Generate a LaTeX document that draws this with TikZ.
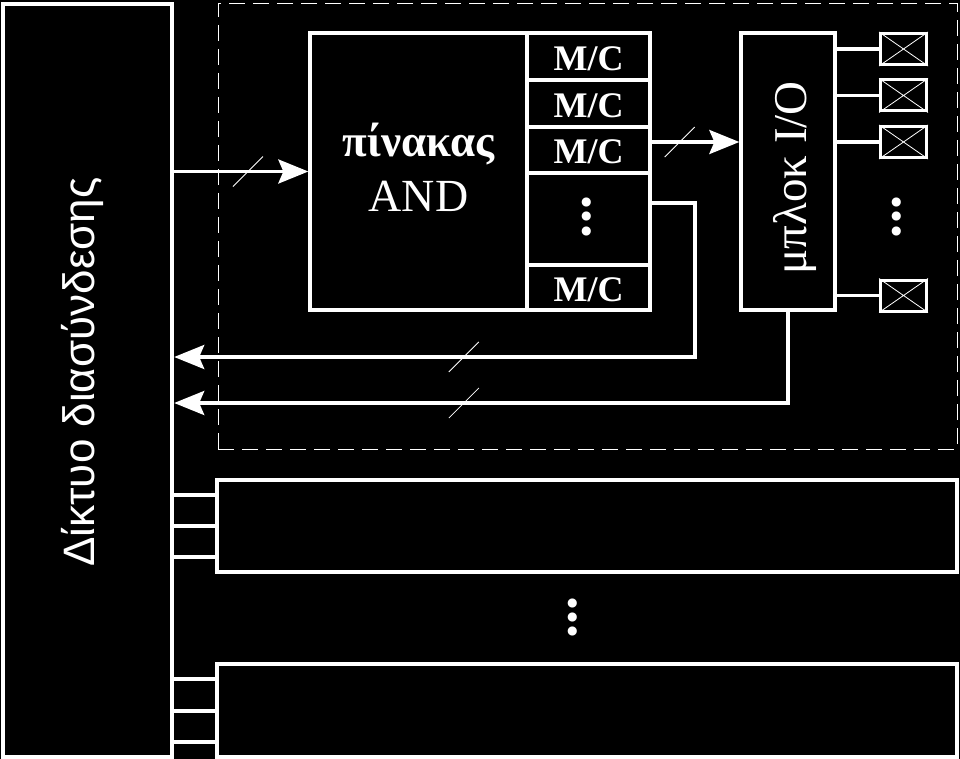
\documentclass[tikz,border=0pt]{standalone}
\usepackage{fontspec}
\setmainfont{Liberation Serif}
\newfontfamily\netfont{Liberation Sans}
\usetikzlibrary{arrows.meta,calc}
\begin{document}
\begin{tikzpicture}[x=1pt,y=-1pt,
  every node/.style={text=white},
  box/.style={draw=white,line width=3.3pt,inner sep=0pt},
  bigbox/.style={draw=white,line width=4.4pt,inner sep=0pt},
  wire/.style={draw=white,line width=3.3pt},
  stub/.style={draw=white,line width=4pt},
  arr/.style={draw=white,line width=3.5pt,-{Stealth[length=30pt,width=24pt,inset=5pt]}},
  slashmark/.style={draw=white,line width=0.8pt},
  crossline/.style={draw=white,line width=0.8pt},
  pin/.style={draw=white,line width=3pt,inner sep=0pt,minimum width=46pt,minimum height=31pt},
  mccell/.style={box,minimum width=123pt,font=\bfseries\fontsize{36}{36}\selectfont,text height=28pt,text depth=0pt},
  dotsv/.style={rotate=90,inner sep=0pt,font=\bfseries\fontsize{56}{56}\selectfont},
]
\fill[black] (0,0) rectangle (960,759);
\useasboundingbox (0,0) rectangle (960,759);

% interconnect network
\node[bigbox,minimum width=169pt,minimum height=753pt] (net) at (87.5,380.5) {};
\node[rotate=90,anchor=base,font=\netfont\fontsize{44}{44}\selectfont] (netlbl) at (94,372) {Δίκτυο διασύνδεσης};

% dashed frame
\node[draw=white,line width=1pt,dash pattern=on 16pt off 8pt,inner sep=0pt,minimum width=739pt,minimum height=445pt] (frame) at (587.5,226.5) {};

% AND array
\node[box,minimum width=217pt,minimum height=277pt] (and) at (418.5,171.5) {};
\node[anchor=base,font=\bfseries\fontsize{45}{45}\selectfont] (andl1) at (418.5,157) {πίνακας};
\node[anchor=base,font=\fontsize{46}{46}\selectfont] (andl2) at (418.5,212) {AND};

% macrocells
\node[mccell,minimum height=47pt] (mc1) at (588.5,56.5) {M/C};
\node[mccell,minimum height=47pt] (mc2) at (588.5,103.5) {M/C};
\node[mccell,minimum height=46pt] (mc3) at (588.5,150) {M/C};
\node[box,minimum width=123pt,minimum height=92pt] (mcd) at (588.5,219) {};
\node[mccell,minimum height=45pt] (mc4) at (588.5,287.5) {M/C};
\node[dotsv] (mcdots) at (587,217) {...};

% I/O block
\node[box,minimum width=94pt,minimum height=277pt] (io) at (788,171.5) {};
\node[rotate=90,anchor=base,font=\fontsize{47}{47}\selectfont] (iolbl) at (806,178) {μπλοκ I/O};

% pins
\node[pin] (p1) at (903.5,49) {};
\node[pin] (p2) at (903.5,95.5) {};
\node[pin] (p3) at (903.5,142) {};
\node[pin] (p4) at (903.5,295.5) {};
\node[dotsv] (pdots) at (897,217) {...};
\foreach \p in {p1,p2,p3,p4} {
  \draw[wire] (io.east |- \p.west) -- (\p.west);
  \draw[crossline] (\p.north west) -- (\p.south east) (\p.north east) -- (\p.south west);
}

% other blocks
\node[bigbox,minimum width=740pt,minimum height=92pt] (blk1) at (587,526) {};
\node[bigbox,minimum width=740pt,minimum height=93pt] (blk2) at (587,710.5) {};
\node[dotsv] (bdots) at (573,617) {...};
\foreach \b in {blk1,blk2} {
  \foreach \f [count=\i] in {0.18,0.5,0.82} {
    \coordinate (\b s\i) at ($(\b.north west)!\f!(\b.south west)$);
    \draw[stub] (\b s\i -| net.east) -- (\b s\i);
  }
}

% connectors
\draw[arr] (and.west -| net.east) -- coordinate[pos=0.55] (s1) (and.west);
\draw[slashmark] ($(s1)+(-15,15)$) -- ($(s1)+(15,-15)$);

\draw[arr] (mc3.east |- p3.west) -- coordinate[pos=0.32] (s2) (io.west |- p3.west);
\draw[slashmark] ($(s2)+(-15,15)$) -- ($(s2)+(15,-15)$);

\coordinate (r1) at (695,357);
\draw[arr] ([yshift=16pt]mcd.east) -| (r1) -- coordinate[pos=0.444] (s3) (r1 -| net.east);
\draw[slashmark] ($(s3)+(-15,15)$) -- ($(s3)+(15,-15)$);

\coordinate (r2) at (io.south |- 0,403);
\draw[arr] (io.south) -- (r2) -- coordinate[pos=0.528] (s4) (r2 -| net.east);
\draw[slashmark] ($(s4)+(-15,15)$) -- ($(s4)+(15,-15)$);
\end{tikzpicture}
\end{document}
